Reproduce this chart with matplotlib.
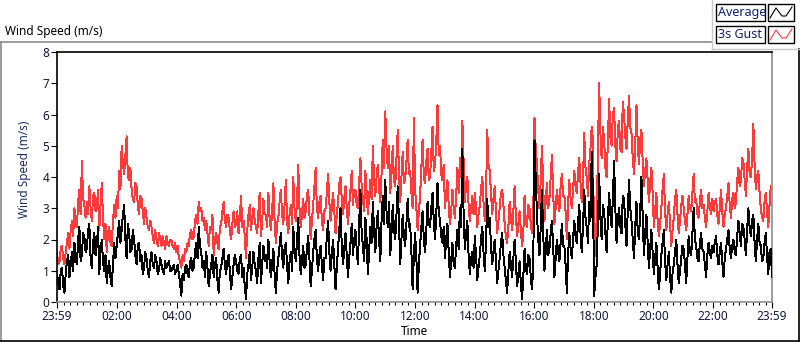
import numpy as np
import matplotlib
matplotlib.use("Agg")
import matplotlib.pyplot as plt
from matplotlib.lines import Line2D
from matplotlib.patches import Rectangle

# ---- data (2.5-minute samples), one row per hour ----
average = [
    0.9,0.6, 0.4,1.0, 1.1,0.5, 0.3,0.9, 1.3,1.5, 0.8,1.2, 1.6,1.0, 1.9,1.4, 1.2,2.0, 2.4,1.3, 1.5,2.2, 2.1,1.6,
    1.7,2.3, 2.5,1.4, 1.1,1.9, 2.2,1.5, 1.8,2.4, 0.9,1.6, 2.0,1.3, 1.0,1.5, 0.6,1.1, 1.3,0.8, 0.5,1.2, 1.9,1.4,
    1.8,2.2, 2.6,1.9, 2.3,2.8, 3.1,2.0, 1.4,2.5, 2.2,1.6, 1.7,2.3, 2.0,1.5, 1.2,1.8, 1.9,1.3, 1.5,0.9, 1.1,1.6,
    1.4,1.0, 0.8,1.3, 1.6,1.2, 1.1,1.5, 1.3,0.9, 1.0,1.4, 1.2,1.0, 0.9,1.3, 1.1,1.2, 1.3,1.0, 1.0,1.1, 1.2,0.9,
    1.0,1.2, 0.9,0.6, 0.2,0.9, 0.7,1.1, 1.2,0.9, 0.8,1.3, 1.4,1.0, 1.1,1.6, 1.9,1.4, 2.4,1.8, 1.6,1.1, 1.3,0.8,
    1.6,1.1, 0.5,0.9, 1.2,1.5, 0.8,1.2, 1.4,0.7, 0.3,1.0, 1.1,1.4, 1.7,1.2, 0.9,1.3, 1.5,1.0, 0.4,0.8, 1.2,1.5,
    1.3,1.0, 0.9,1.4, 1.5,0.8, 1.1,0.5, 0.1,0.9, 1.2,1.6, 0.7,1.1, 1.6,1.2, 1.0,0.6, 1.4,1.9, 0.6,1.2, 1.8,1.3,
    1.5,1.1, 2.0,1.3, 0.8,1.2, 1.7,0.9, 0.3,1.0, 1.4,1.8, 2.2,1.5, 1.1,1.7, 1.9,1.2, 0.6,1.3, 1.6,1.0, 2.4,1.7,
    1.3,1.9, 2.7,1.5, 0.9,1.3, 1.8,1.1, 1.2,1.7, 2.1,1.4, 0.5,1.0, 1.6,2.0, 2.3,1.4, 1.0,1.5, 1.8,1.2, 0.7,1.4,
    1.4,2.1, 2.6,1.6, 1.0,1.5, 2.0,1.2, 0.4,1.1, 1.7,2.3, 3.0,1.8, 1.2,1.7, 2.2,1.5, 0.8,1.4, 1.9,2.5, 1.5,2.0,
    2.3,1.7, 1.2,2.5, 3.6,2.2, 1.8,1.3, 2.7,2.0, 0.9,1.6, 2.4,1.9, 3.2,2.3, 1.6,2.4, 2.9,2.0, 1.3,2.6, 3.4,2.5,
    3.9,2.9, 2.4,3.2, 1.5,2.2, 3.1,2.3, 2.0,2.8, 3.7,2.6, 1.2,2.0, 2.8,2.1, 1.8,2.5, 3.3,2.4, 2.5,1.6, 0.4,1.5,
    2.2,1.4, 0.3,1.2, 1.8,2.4, 2.9,2.0, 1.6,2.3, 3.2,2.5, 2.4,3.0, 3.5,2.6, 2.0,2.8, 3.8,2.9, 2.6,2.1, 1.9,2.4,
    1.4,2.0, 2.5,1.6, 0.8,1.3, 1.9,1.2, 1.1,1.8, 2.3,1.7, 3.0,2.4, 4.9,2.8, 1.7,2.2, 2.6,1.5, 0.9,1.4, 1.6,1.1,
    2.1,1.5, 0.7,1.1, 1.5,2.0, 2.4,1.6, 1.0,1.9, 3.3,2.4, 2.7,1.8, 1.2,1.6, 2.0,1.3, 0.6,1.0, 1.4,1.9, 2.2,1.5,
    1.1,0.7, 0.3,1.0, 1.6,1.2, 0.8,1.4, 2.0,1.3, 0.5,0.9, 1.3,0.6, 0.1,0.8, 1.7,1.1, 0.9,1.5, 1.4,0.8, 0.4,1.2,
    5.2,3.9, 2.8,2.0, 1.5,2.4, 3.6,2.2, 1.0,1.6, 2.3,1.5, 1.7,2.2, 2.6,1.8, 0.8,1.4, 2.0,1.6, 1.3,1.9, 2.5,1.8,
    1.8,1.2, 0.3,1.5, 2.2,1.7, 1.4,2.0, 2.6,2.1, 1.9,2.5, 3.1,2.2, 1.6,2.4, 3.6,2.7, 2.4,1.9, 3.2,2.6, 4.8,3.5,
    0.2,0.8, 1.2,2.5, 4.1,2.7, 2.0,3.1, 2.9,2.2, 1.6,2.6, 3.5,2.8, 2.4,3.3, 4.5,3.0, 1.9,2.6, 3.0,2.4, 2.2,3.4,
    3.3,2.5, 1.8,2.9, 3.9,3.0, 2.6,2.0, 1.4,2.4, 3.2,2.3, 2.0,2.9, 4.0,2.7, 1.5,2.2, 2.8,1.9, 1.1,1.7, 2.3,1.6,
    0.9,1.4, 1.9,1.1, 0.4,0.9, 1.5,1.9, 2.3,1.3, 0.7,1.2, 1.6,0.8, 0.3,0.9, 1.2,1.6, 2.0,1.2, 0.6,1.0, 1.4,1.8,
    1.7,1.2, 0.6,1.4, 2.1,1.6, 1.5,2.2, 3.0,2.0, 1.8,1.4, 1.3,1.9, 2.2,1.7, 1.6,1.2, 0.8,1.5, 1.9,1.6, 1.4,1.8,
    1.6,1.9, 2.1,1.5, 1.2,1.6, 1.9,1.3, 0.8,1.4, 1.7,2.0, 2.3,1.7, 1.4,1.8, 2.0,1.6, 1.5,2.1, 2.6,2.2, 1.8,2.5,
    2.4,2.0, 1.5,2.3, 3.0,2.4, 2.1,2.6, 2.8,1.9, 1.3,2.0, 2.5,1.9, 1.8,1.3, 1.4,1.9, 2.2,1.5, 0.9,1.6, 1.7,0.8,
]

gust_3s = [
    1.6,1.2, 1.3,1.7, 1.8,1.4, 1.2,1.6, 1.9,2.2, 1.7,2.3, 2.6,2.1, 3.0,2.5, 2.4,3.2, 3.6,2.8, 4.5,3.3, 3.1,2.7,
    3.2,2.8, 3.7,3.0, 2.6,3.4, 3.5,2.9, 3.0,3.6, 2.3,3.1, 3.8,2.7, 2.0,2.5, 1.6,2.2, 2.4,1.9, 1.8,2.6, 3.1,2.7,
    3.4,3.0, 4.2,3.6, 5.0,4.4, 4.1,4.7, 5.3,4.0, 3.9,4.3, 3.6,3.3, 3.2,3.8, 3.7,3.1, 2.8,3.4, 3.3,2.9, 2.5,3.0,
    2.7,2.4, 2.3,2.6, 2.4,2.1, 1.9,2.3, 2.0,1.8, 2.2,2.0, 1.8,2.1, 1.9,1.7, 2.1,1.9, 1.8,2.0, 2.0,1.8, 1.7,1.9,
    1.6,1.8, 1.4,1.3, 1.1,1.5, 1.3,1.7, 1.6,1.9, 1.8,2.2, 2.3,2.0, 2.1,2.6, 2.8,2.5, 3.2,2.9, 3.0,2.6, 2.7,2.3,
    2.6,2.2, 1.8,2.4, 2.3,2.8, 1.5,2.0, 2.2,1.9, 1.7,2.4, 2.5,2.9, 3.2,2.6, 2.4,2.8, 2.7,2.3, 2.0,2.5, 2.9,2.4,
    2.5,2.9, 2.2,2.7, 3.4,2.4, 2.6,2.1, 1.4,2.3, 2.8,3.1, 2.3,2.7, 3.0,2.6, 2.4,2.2, 2.9,3.5, 2.1,2.6, 3.3,2.8,
    2.8,2.4, 3.5,2.7, 2.3,2.9, 3.8,2.6, 1.9,2.5, 2.7,3.2, 3.6,2.8, 2.5,3.1, 3.9,2.6, 2.2,2.8, 3.1,2.5, 4.0,3.0,
    2.6,3.2, 4.4,3.0, 2.4,2.8, 3.3,2.7, 2.9,3.4, 3.6,2.8, 2.0,2.6, 3.1,3.7, 4.3,3.0, 2.7,3.2, 3.4,2.6, 2.3,2.9,
    3.0,3.5, 4.1,3.2, 2.6,3.0, 3.5,2.9, 2.2,2.8, 3.2,3.8, 4.0,3.3, 2.8,3.3, 3.7,3.0, 2.5,3.1, 3.6,4.2, 3.1,3.6,
    3.6,3.1, 3.0,3.8, 4.6,3.7, 3.3,2.9, 4.2,3.5, 2.8,3.4, 3.9,3.3, 5.0,3.9, 3.4,4.0, 4.4,3.6, 3.2,4.1, 5.2,4.3,
    6.1,4.9, 4.3,5.0, 3.5,4.1, 5.0,3.9, 3.7,4.6, 5.5,4.2, 3.2,4.0, 4.8,3.8, 3.9,4.5, 5.2,4.1, 4.2,3.5, 3.0,5.9,
    3.6,3.0, 2.3,2.9, 3.4,4.3, 5.2,4.0, 3.8,4.5, 4.9,3.9, 4.0,4.8, 5.6,4.2, 4.4,5.1, 6.3,4.7, 5.0,4.1, 3.9,4.4,
    3.0,3.5, 3.9,3.1, 2.5,2.9, 3.6,3.0, 2.7,3.4, 4.3,3.5, 4.6,4.0, 5.8,4.5, 3.2,3.8, 4.0,3.1, 2.6,3.0, 3.4,2.8,
    3.5,3.0, 2.4,2.8, 3.1,3.6, 4.0,3.2, 2.6,3.4, 5.5,4.4, 4.2,3.5, 2.8,3.3, 3.7,2.9, 2.2,2.6, 3.0,3.5, 3.6,3.1,
    2.5,2.1, 1.9,2.4, 3.2,2.7, 2.3,2.9, 3.7,2.8, 2.1,2.5, 2.9,2.3, 1.8,2.2, 3.4,2.6, 2.4,3.1, 3.0,2.5, 2.2,2.8,
    5.9,4.9, 4.4,3.6, 3.0,3.9, 5.0,3.7, 2.6,3.2, 3.8,3.0, 3.3,4.0, 4.7,3.5, 2.5,3.0, 3.6,3.2, 2.9,3.7, 4.1,3.4,
    3.4,2.9, 2.0,3.1, 3.9,3.3, 3.0,3.6, 4.2,3.7, 3.5,4.1, 4.6,3.8, 3.2,3.9, 5.4,4.3, 4.0,3.4, 4.4,4.9, 5.6,5.2,
    1.3,1.9, 2.6,4.8, 7.0,5.4, 4.6,5.6, 5.2,4.3, 4.0,5.1, 6.5,5.3, 5.0,6.0, 6.2,5.0, 4.5,5.5, 5.8,4.9, 4.8,6.4,
    6.0,5.3, 4.9,5.8, 6.6,5.6, 5.4,4.6, 4.1,5.0, 6.3,5.1, 4.4,5.2, 5.5,4.5, 3.7,4.2, 4.6,3.9, 3.2,3.8, 4.3,3.5,
    2.4,2.9, 3.5,2.6, 2.1,2.5, 3.0,3.6, 4.1,2.9, 2.3,2.8, 3.2,2.5, 1.8,2.3, 2.7,3.3, 3.6,2.8, 2.2,2.6, 3.1,3.4,
    3.0,2.6, 2.3,2.8, 3.4,3.0, 2.9,3.5, 4.1,3.2, 3.3,2.8, 2.7,3.2, 3.6,3.0, 3.1,2.7, 2.4,2.9, 3.5,3.1, 2.8,3.3,
    2.9,3.2, 3.3,2.8, 2.5,3.0, 3.6,2.9, 2.4,2.8, 3.0,3.4, 3.8,3.1, 2.7,3.3, 3.5,3.0, 3.2,3.9, 4.3,3.7, 3.9,4.6,
    4.5,3.9, 3.4,4.3, 4.9,4.1, 4.0,4.6, 5.7,4.4, 3.6,4.0, 4.2,3.5, 3.0,2.7, 2.6,3.2, 3.5,2.9, 2.4,3.1, 3.7,3.6,
]

tick_labels = ["23:59", "02:00", "04:00", "06:00", "08:00", "10:00", "12:00",
               "14:00", "16:00", "18:00", "20:00", "22:00", "23:59"]
series_names = ["Average", "3s Gust"]
y_ticks = [0, 1, 2, 3, 4, 5, 6, 7, 8]

# ---- figure ----
W, H = 800, 342
plt.rcParams["font.family"] = ["Noto Sans", "DejaVu Sans"]
fig = plt.figure(figsize=(W / 100, H / 100), dpi=100)
fig.patch.set_facecolor("white")

def fx(px):
    return px / W

def fy(py):
    return 1 - py / H

ax = fig.add_axes([fx(57), fy(302), fx(772) - fx(57), fy(52) - fy(302)])

n = len(average)
t = np.linspace(0, 24, n)
red = "#ff3b3b"
ax.plot(t, gust_3s, color=red, lw=0.7, zorder=2, antialiased=False)
ax.plot(t, average, color="black", lw=0.7, zorder=3, antialiased=False)

ax.set_xlim(0, 24)
ax.set_ylim(0, 8)

major = [0] + [2 * k + 1 / 60 for k in range(1, 12)] + [24]
ax.set_xticks(major)
ax.set_xticklabels(tick_labels)
minor = []
for a, b in zip(major[:-1], major[1:]):
    step = 2 / 9
    k = 1
    while a + k * step < b - 0.05:
        minor.append(a + k * step)
        k += 1
ax.set_xticks(minor, minor=True)
ax.set_yticks(y_ticks)

lab_col = "#14183a"
ax.tick_params(axis="both", which="major", direction="out", length=4, width=0.8,
               labelsize=8.5, colors="black", labelcolor=lab_col, pad=2)
ax.tick_params(axis="x", which="minor", direction="out", length=2.5, width=0.8,
               colors="black")
ax.tick_params(axis="y", which="major", pad=1.5)

for s in ("top", "left"):
    ax.spines[s].set_color("black")
    ax.spines[s].set_linewidth(1.2)
for s in ("bottom", "right"):
    ax.spines[s].set_color("#8c8c8c")
    ax.spines[s].set_linewidth(1.2)

ax.set_ylabel("Wind Speed (m/s)", color="#1c2f66", fontsize=8.5, labelpad=3)
ax.yaxis.set_label_coords(-0.036, 0.53)
ax.set_xlabel("Time", color="black", fontsize=8.5, labelpad=1)

# ---- outer LabVIEW-like frame ----
grey = "#8a8a8a"
fig.add_artist(Line2D([fx(0.5), fx(0.5)], [fy(42), fy(341)], color=grey, lw=1.2))
fig.add_artist(Line2D([fx(0), fx(712)], [fy(42), fy(42)], color=grey, lw=1.2))
fig.add_artist(Line2D([fx(0), fx(799)], [fy(340.5), fy(340.5)], color="black", lw=1.2))
fig.add_artist(Line2D([fx(798.5), fx(798.5)], [fy(49), fy(341)], color="black", lw=1.2))
# legend panel outline
fig.add_artist(Line2D([fx(712), fx(712)], [fy(0), fy(49)], color="#c8c8c8", lw=1.0))
fig.add_artist(Line2D([fx(712), fx(800)], [fy(49), fy(49)], color="#c8c8c8", lw=1.0))

fig.text(fx(5), fy(31), "Wind Speed (m/s)", fontsize=8.5, color="black",
         ha="left", va="center")

# ---- legend ----
rows = [(4, "black"), (26, red)]
for (ytop, col), name in zip(rows, series_names):
    fig.add_artist(Rectangle((fx(716), fy(ytop + 17)), fx(765) - fx(716),
                             fy(ytop) - fy(ytop + 17), facecolor="white",
                             edgecolor="black", lw=1.0))
    fig.text(fx(717.5), fy(ytop + 8.5), name, fontsize=9, color="#13206a",
             ha="left", va="center")
    fig.add_artist(Rectangle((fx(768), fy(ytop + 17)), fx(794) - fx(768),
                             fy(ytop) - fy(ytop + 17), facecolor="white",
                             edgecolor="black", lw=1.0))
    zx = [770, 776, 782, 786, 792]
    zy = [ytop + 14, ytop + 4, ytop + 12, ytop + 12, ytop + 3]
    fig.add_artist(Line2D([fx(v) for v in zx], [fy(v) for v in zy], color=col, lw=0.8))

fig.savefig("out.png", dpi=100, facecolor="white")
